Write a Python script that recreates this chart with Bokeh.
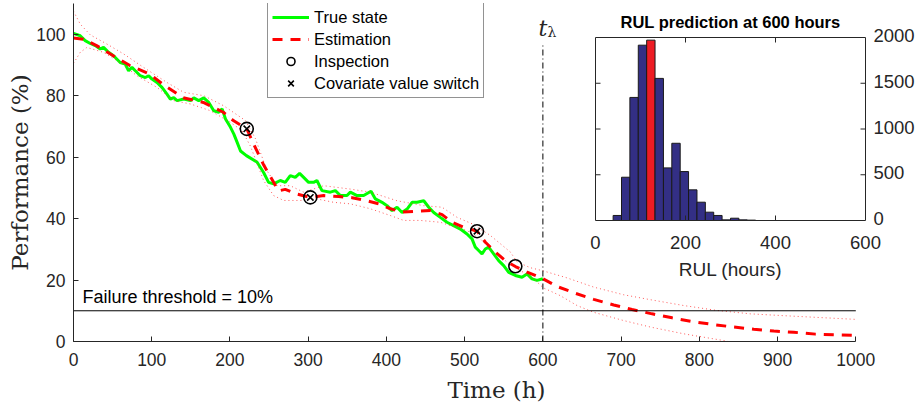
import numpy as np
from bokeh.plotting import figure
from bokeh.models import Range1d, FixedTicker, Legend, LegendItem
from bokeh.core.properties import value
from bokeh.embed import file_html
from bokeh.resources import INLINE

# ---------------- data ----------------
true_t = [0, 8.6, 14.9, 21.4, 27.8, 34.2, 38.4, 44.8, 51.2, 59.7, 66.1, 70.4, 74.7, 79.0, 85.4,
          91.8, 96.1, 100.3, 106.7, 113.1, 119.5, 123.8, 128.1, 132.4, 140.9, 149.5, 153.7, 160.1,
          166.5, 172.9, 179.3, 185.7, 190.0, 194.3, 200.7, 205.0, 209.2, 213.5, 221.0, 234.5, 243.0,
          249.4, 255.8, 264.3, 270.7, 277.1, 283.5, 289.0, 294.2, 300.5, 306.9, 311.2, 317.6, 328.3,
          334.7, 341.1, 349.6, 353.9, 362.4, 370.9, 380.3, 385.9, 394.4, 400.8, 407.2, 413.6, 420.0,
          426.4, 432.8, 439.2, 447.7, 454.1, 460.5, 468.9, 477.4, 485.9, 494.5, 503.0, 509.4, 513.6,
          517.9, 522.2, 526.4, 530.7, 537.1, 543.5, 549.9, 556.3, 564.8, 573.3, 579.7, 586.1, 592.5, 600]
true_y = [100.3, 99.5, 97.9, 97.0, 96.3, 95.2, 95.7, 94.1, 93.0, 90.8, 90.3, 88.1, 89.2, 88.1, 86.5,
          85.9, 86.5, 85.4, 84.3, 82.7, 80.5, 78.9, 79.4, 78.4, 78.9, 78.4, 79.3, 78.4,
          79.3, 77.8, 75.1, 74.6, 75.7, 72.4, 69.7, 67.5, 64.8, 62.0, 60.5, 58.4, 55.0,
          51.8, 51.3, 52.4, 51.8, 54.0, 53.4, 54.7, 53.4, 51.8, 51.8, 52.4, 49.1, 48.6,
          49.1, 47.5, 47.5, 48.6, 47.5, 47.5, 48.9, 46.4, 45.3, 44.2, 42.6, 43.7, 42.0,
          43.1, 45.3, 45.3, 45.8, 43.7, 42.0, 40.4, 38.8, 37.7, 36.6, 35.0, 33.4, 30.7,
          29.6, 28.5, 30.1, 30.7, 28.5, 26.3, 24.7, 22.5, 21.5, 20.9, 22.0, 20.4, 19.9, 20.4]

est_t = [0, 12.4, 29.5, 50.8, 72.1, 97.7, 116.9, 140.4, 166.0, 191.5, 204.3, 221.5, 230.0, 243.0,
         255.8, 262.0, 270.7, 285.6, 302.7, 319.8, 339.0, 356.1, 373.1, 390.2, 405.1, 420.0, 437.1,
         456.3, 471.2, 483.9, 498.8, 515.9, 526.5, 539.3, 552.1, 564.9, 579.8, 594.7, 600.2, 618.1,
         641.5, 665.0, 690.6, 714.0, 739.6, 765.2, 790.8, 818.5, 844.0, 869.6, 895.2, 920.8, 948.5,
         974.1, 1000]
est_y = [98.8, 98.4, 96.3, 93.0, 89.8, 87.0, 83.2, 79.3, 77.8, 74.6, 71.9, 69.2, 64.4, 57.5,
         51.8, 49.0, 49.5, 48.0, 46.9, 47.5, 47.2, 46.8, 45.9, 44.8, 43.2, 42.1, 42.4,
         42.6, 41.3, 38.8, 37.2, 35.9, 32.3, 29.1, 26.3, 24.4, 22.6, 21.0, 20.4, 17.9,
         15.7, 13.7, 11.9, 10.4, 9.0, 7.7, 6.5, 5.5, 4.7, 4.0, 3.4, 3.0, 2.4,
         2.2, 2.0]

up_t = [0, 8.6, 21.4, 42.7, 64.0, 89.6, 119.5, 140.8, 166.5, 192.1, 219.8, 232.6, 247.3, 260.0,
        277.0, 294.2, 319.8, 353.9, 379.4, 413.6, 447.7, 471.1, 490.3, 509.5, 532.9, 558.5, 567.0,
        584.1, 600.3, 630.9, 665.0, 703.4, 737.5, 780.1, 822.8, 865.4, 908.0, 1000]
up_y = [107.5, 103.3, 99.8, 96.8, 93.6, 89.2, 84.3, 81.1, 80.0, 76.7, 71.9, 66.0, 55.6, 50.7,
        50.7, 48.6, 50.7, 49.6, 48.6, 45.8, 44.2, 43.7, 40.4, 38.3, 34.5, 29.1, 25.9,
        24.0, 23.0, 20.7, 17.7, 15.2, 13.6, 11.7, 10.1, 9.0, 8.4, 7.2]

lo_t = [0, 8.6, 17.1, 38.4, 59.7, 81.0, 106.7, 128.0, 149.5, 175.1, 200.7, 215.6, 226.3, 243.0,
        255.8, 268.5, 289.8, 311.2, 332.5, 353.9, 379.4, 405.0, 422.1, 443.4, 469.0, 481.8, 503.0,
        520.1, 537.2, 554.2, 571.3, 588.4, 600.3, 622.4, 643.7, 665.0, 703.4, 737.5, 780.1, 831.3, 845.0]
lo_y = [90.5, 94.1, 95.7, 94.1, 90.8, 86.5, 82.7, 78.4, 77.3, 75.1, 71.3, 68.6, 63.5, 52.4,
        47.5, 45.9, 45.9, 46.4, 45.3, 44.8, 43.2, 41.0, 39.4, 39.4, 38.8, 37.7, 36.1,
        33.4, 29.1, 25.9, 23.1, 20.4, 17.5, 14.9, 11.7, 9.5, 6.8, 4.7, 2.5, 0.3, -0.5]

insp_t = [221.5, 302.7, 515.8, 564.8]
insp_y = [69.2, 46.9, 35.9, 24.5]
switch_t = [221.5, 302.7, 515.8]
switch_y = [69.2, 46.9, 35.9]

threshold = 10
thr_x = [0, 1000]
t_lambda = 600
t_lambda_top = 97

x_ticks = [0, 100, 200, 300, 400, 500, 600, 700, 800, 900, 1000]
y_ticks = [0, 20, 40, 60, 80, 100]
y_max = 110

# RUL histogram (inset)
hist_edges = [39.2, 57.8, 76.4, 95.1, 113.7, 132.3, 151.0, 169.6, 188.2, 206.8, 225.5, 244.1,
              262.7, 281.3, 300.0, 318.6, 337.2, 355.9]
hist_counts = [55, 473, 1345, 1916, 1971, 1553, 575, 844, 535, 335, 200, 91, 55, 7, 25, 7, 4]
hist_highlight = 4
hist_xticks = [0, 200, 400, 600]
hist_yticks = [0, 500, 1000, 1500, 2000]

# ---------------- layout constants (pixels) ----------------
W, H = 919, 408
ML, MR, MT, MB = 73, 0, 3, 67
FW = W - ML - MR
FH = H - MT - MB
X_SCALE = 0.7823   # px per hour
INSET_L = 522      # px from frame left where RUL=0
INSET_R = 792      # px from frame left where RUL=600
INSET_B = 121      # px from frame bottom where count=0
INSET_T = 304      # px from frame bottom where count=2000
HX_SCALE = (INSET_R - INSET_L) / 600.0
HY_SCALE = (INSET_T - INSET_B) / 2000.0

TXT = "#262626"
SANS = "Liberation Sans"
SERIF = "DejaVu Serif"

p = figure(width=W, height=H, output_backend="svg", toolbar_location=None,
           x_range=Range1d(0, FW / X_SCALE), y_range=Range1d(0, y_max),
           min_border_left=ML, min_border_right=MR, min_border_top=MT, min_border_bottom=MB)
p.extra_x_ranges = {"hx": Range1d(-INSET_L / HX_SCALE, (FW - INSET_L) / HX_SCALE)}
p.extra_y_ranges = {"hy": Range1d(-INSET_B / HY_SCALE, (FH - INSET_B) / HY_SCALE)}

p.outline_line_color = None
p.xgrid.visible = False
p.ygrid.visible = False
p.background_fill_color = "white"

# axes
for ax in (p.xaxis[0], p.yaxis[0]):
    ax.major_tick_in = 5
    ax.major_tick_out = 0
    ax.minor_tick_out = 0
    ax.minor_tick_in = 0
    ax.minor_tick_line_color = None
    ax.axis_line_color = TXT
    ax.major_tick_line_color = TXT
    ax.major_label_text_font = SANS
    ax.major_label_text_font_size = "17.5px"
    ax.major_label_text_color = TXT
    ax.axis_label_text_font = SERIF
    ax.axis_label_text_font_size = "23px"
    ax.axis_label_text_font_style = "normal"
    ax.axis_label_text_color = TXT
p.xaxis.ticker = FixedTicker(ticks=x_ticks)
p.yaxis.ticker = FixedTicker(ticks=y_ticks)
p.xaxis.bounds = (0, 1000)
p.xaxis.major_label_standoff = 11
p.xaxis.axis_label_standoff = 8
p.yaxis.major_label_standoff = 8
p.yaxis.axis_label_standoff = 0
p.xaxis.axis_label = "Time (h)"
p.yaxis.axis_label = "Performance (%)"

# main curves
r_true = p.line(true_t, true_y, line_color="#00FF00", line_width=3)
p.line(up_t, up_y, line_color="#FF3030", line_width=1, line_dash="1 3", line_alpha=0.8)
p.line(lo_t, lo_y, line_color="#FF3030", line_width=1, line_dash="1 3", line_alpha=0.8)
r_est = p.line(est_t, est_y, line_color="#FF0000", line_width=3, line_dash="10 8")
r_insp = p.scatter(insp_t, insp_y, marker="circle", size=13, fill_color=None,
                   line_color="black", line_width=1.6)
r_sw = p.scatter(switch_t, switch_y, marker="x", size=9, line_color="black", line_width=1.6)

# threshold and t_lambda
p.line(thr_x, [threshold, threshold], line_color="black", line_width=1)
p.text(x=[thr_x[0]], y=[threshold], text=["Failure threshold = %d%%" % threshold],
       text_font=value(SANS), text_font_size="18px", text_color="black",
       text_baseline="alphabetic", text_align="left", x_offset=9, y_offset=-14)
p.line([t_lambda, t_lambda], [0, t_lambda_top], line_color="black", line_width=1, line_dash="6 3 1 3")
p.text(x=[t_lambda], y=[t_lambda_top], text=["t"], text_font=value(SERIF), text_font_style="italic",
       text_font_size="22px", text_color=TXT, text_align="center", text_baseline="alphabetic",
       y_offset=-15)
p.text(x=[t_lambda], y=[t_lambda_top], text=["λ"], text_font=value(SERIF),
       text_font_size="14px", text_color=TXT, text_align="center", text_baseline="alphabetic",
       x_offset=9, y_offset=-11)

# ---------------- inset histogram ----------------
HX = dict(x_range_name="hx", y_range_name="hy")
hcol = ["#ED1C24" if i == hist_highlight else "#332F85" for i in range(len(hist_counts))]
p.quad(left=hist_edges[:-1], right=hist_edges[1:], bottom=0, top=hist_counts,
       fill_color=hcol, line_color="#1a1a1a", line_width=1, **HX)
x0h, x1h = hist_xticks[0], hist_xticks[-1]
y0h, y1h = hist_yticks[0], hist_yticks[-1]
p.quad(left=[x0h], right=[x1h], bottom=[y0h], top=[y1h],
       fill_color=None, line_color=TXT, line_width=1, **HX)
tick_h = 5 / HY_SCALE
tick_w = 5 / HX_SCALE
inner_x = hist_xticks[1:-1]
inner_y = hist_yticks[1:-1]
nx, ny = len(inner_x), len(inner_y)
p.segment(x0=inner_x, y0=[y0h] * nx, x1=inner_x, y1=[y0h + tick_h] * nx,
          line_color=TXT, line_width=1, **HX)
p.segment(x0=inner_x, y0=[y1h] * nx, x1=inner_x, y1=[y1h - tick_h] * nx,
          line_color=TXT, line_width=1, **HX)
p.segment(x0=[x0h] * ny, y0=inner_y, x1=[x0h + tick_w] * ny, y1=inner_y,
          line_color=TXT, line_width=1, **HX)
p.segment(x0=[x1h] * ny, y0=inner_y, x1=[x1h - tick_w] * ny, y1=inner_y,
          line_color=TXT, line_width=1, **HX)
# tick labels of inset
p.text(x=hist_xticks, y=[y0h] * len(hist_xticks), text=[str(t) for t in hist_xticks],
       text_font=value(SANS), text_font_size="18.5px", text_color=TXT, text_align="center",
       text_baseline="alphabetic", y_offset=22, **HX)
p.text(x=[x1h] * len(hist_yticks), y=hist_yticks, text=[str(t) for t in hist_yticks],
       text_font=value(SANS), text_font_size="18.5px", text_color=TXT, text_align="left",
       text_baseline="middle", x_offset=8, y_offset=-2, **HX)
p.text(x=[(x0h + x1h) / 2], y=[y0h], text=["RUL (hours)"],
       text_font=value(SANS), text_font_size="19px", text_color=TXT, text_align="center",
       text_baseline="alphabetic", y_offset=49, **HX)
p.text(x=[(x0h + x1h) / 2], y=[y1h], text=["RUL prediction at %d hours" % t_lambda],
       text_font=value(SANS), text_font_size="16.5px", text_font_style="bold", text_color="black",
       text_align="center", text_baseline="alphabetic", y_offset=-16, **HX)

# legend
legend = Legend(items=[LegendItem(label="True state", renderers=[r_true]),
                       LegendItem(label="Estimation", renderers=[r_est]),
                       LegendItem(label="Inspection", renderers=[r_insp]),
                       LegendItem(label="Covariate value switch", renderers=[r_sw])],
                location=(194, 243), glyph_width=37, glyph_height=20, label_height=20,
                label_standoff=5, padding=4, spacing=2, margin=0,
                label_text_font=SANS, label_text_font_size="16.5px", label_text_color="black",
                border_line_color=TXT, border_line_width=1, background_fill_alpha=1)
p.add_layout(legend)

open("out.html", "w").write(file_html(p, INLINE))
